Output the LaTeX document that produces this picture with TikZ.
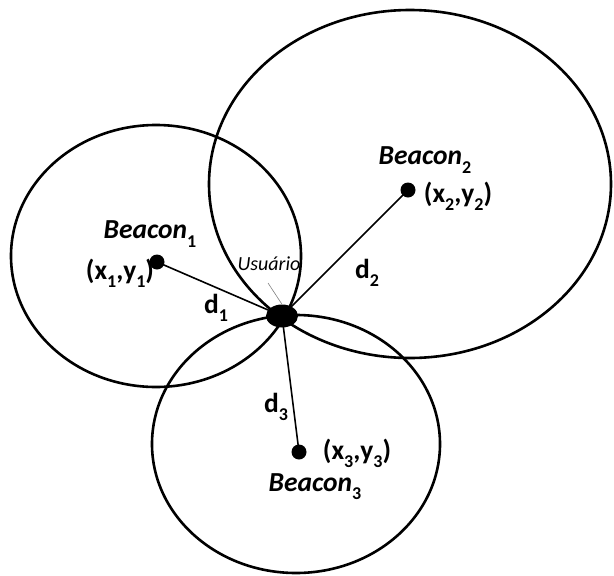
\documentclass[tikz,border=0pt]{standalone}
\usepackage{fontspec}
\setmainfont{Carlito}
\usetikzlibrary{shapes.geometric}
\newcommand\mysub[1]{\raisebox{-0.3em}{\fontsize{18}{18}\selectfont\upshape #1}}
\tikzset{
  rangeline/.style={draw=black, line width=2.6pt},
  bdot/.style={circle, fill=black, inner sep=0pt, minimum size=15pt},
  conn/.style={draw=black, line width=1.6pt},
  lbl/.style={font=\fontsize{27.5}{27.5}\selectfont\bfseries, inner sep=0pt},
  blbl/.style={font=\fontsize{27.5}{27.5}\selectfont\bfseries\itshape, inner sep=0pt},
}
\begin{document}
\begin{tikzpicture}[x=1pt,y=-1pt]
\useasboundingbox (0,0) rectangle (614,576);
% range ellipses
\draw[rangeline] (156,256) ellipse [x radius=145, y radius=131];
\draw[rangeline] (410,184) ellipse [x radius=201, y radius=174];
\draw[rangeline] (296,444) ellipse [x radius=144, y radius=129];
% dots
\node[bdot] (b1) at (157,262) {};
\node[bdot] (b2) at (408,190) {};
\node[bdot] (b3) at (299,452) {};
\node[ellipse, fill=black, inner sep=0pt, minimum width=32pt, minimum height=23pt] (u) at (282,316) {};
% connectors
\draw[conn] (b1.center) -- (u.center);
\draw[conn] (b2.center) -- (u.center);
\draw[conn] (b3.center) -- (u.center);
% labels
\node[blbl] (t1) at (150,234) {Beacon\mysub{1}};
\node[lbl] (c1) at (120,273) {(x\mysub{1},y\mysub{1})};
\node[blbl] (t2) at (425,160) {Beacon\mysub{2}};
\node[lbl] (c2) at (458,196) {(x\mysub{2},y\mysub{2})};
\node[blbl] (t3) at (315,487) {Beacon\mysub{3}};
\node[lbl] (c3) at (357,453) {(x\mysub{3},y\mysub{3})};
\node[lbl] (d1) at (216,308) {d\mysub{1}};
\node[lbl] (d2) at (367,273) {d\mysub{2}};
\node[lbl] (d3) at (276,407) {d\mysub{3}};
\node[font=\fontsize{20}{20}\selectfont\itshape, inner sep=0pt] (ul) at (269,264) {Usuário};
\coordinate (p) at (268,283);
\draw[gray, line width=0.6pt] (p) -- (u.north);
\end{tikzpicture}
\end{document}
